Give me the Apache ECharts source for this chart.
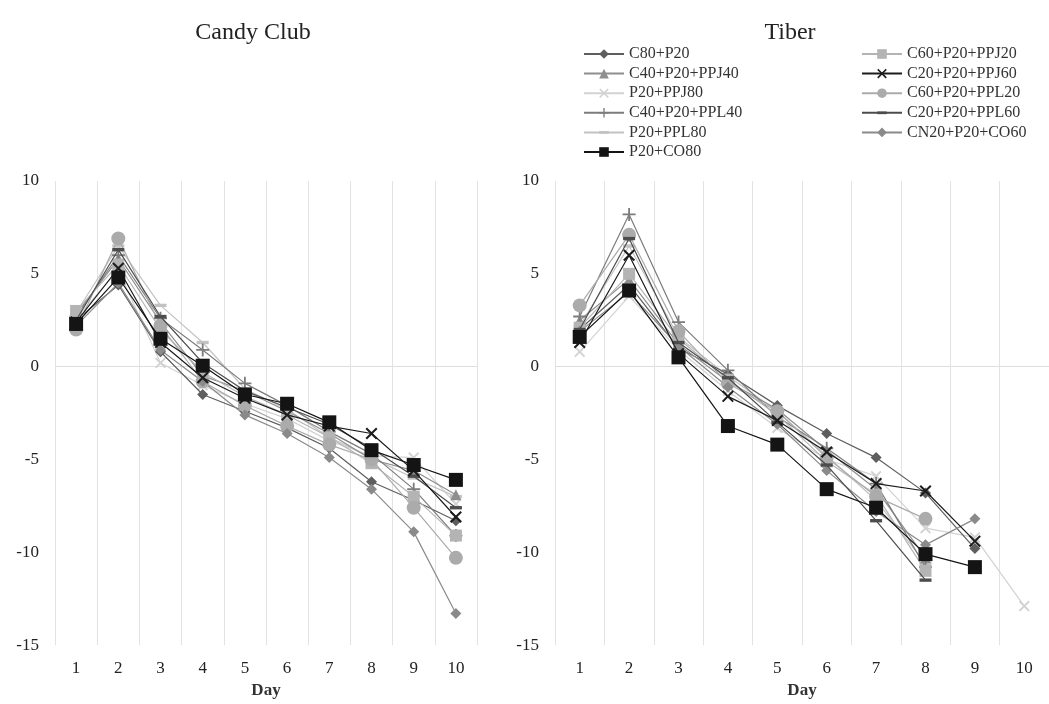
<!DOCTYPE html>
<html><head><meta charset="utf-8">
<script src="https://cdn.jsdelivr.net/npm/echarts@6/dist/echarts.min.js"></script>
<style>html,body{margin:0;padding:0;background:#fff}#c{width:1049px;height:704px}</style>
</head><body><div id="c"></div>
<script>
// ---- data ----
const days = ['1','2','3','4','5','6','7','8','9','10'];
const yTicks = [-15, -10, -5, 0, 5, 10];
const panelTitles = ['Candy Club', 'Tiber'];
const seriesNames = ['C80+P20','C40+P20+PPJ40','P20+PPJ80','C40+P20+PPL40','P20+PPL80','P20+CO80',
                     'C60+P20+PPJ20','C20+P20+PPJ60','C60+P20+PPL20','C20+P20+PPL60','CN20+P20+CO60'];

// Candy Club
const candy_C80_P20        = [2.5, 4.4, 0.8, -1.5, -2.4, -3.3, -4.4, -6.2, -7.2, -8.3];
const candy_C40_P20_PPJ40  = [2.8, 5.8, 2.4, -0.5, -1.3, -2.4, -3.6, -5.0, -5.6, -6.9];
const candy_P20_PPJ80      = [2.6, 5.2, 0.2, -1.0, -2.0, -2.8, -4.0, -4.8, -4.9, -7.4];
const candy_C40_P20_PPL40  = [2.7, 6.0, 2.6, 0.9, -0.9, -2.1, -3.5, -4.7, -6.6, -9.1];
const candy_P20_PPL80      = [2.9, 6.5, 3.3, 1.3, -1.2, -2.3, -3.8, -4.9, -6.0, -7.0];
const candy_P20_CO80       = [2.3, 4.8, 1.5, 0.05, -1.5, -2.0, -3.0, -4.5, -5.3, -6.1];
const candy_C60_P20_PPJ20  = [3.0, 5.5, 2.0, -0.3, -1.6, -2.6, -3.8, -5.2, -7.0, -9.1];
const candy_C20_P20_PPJ60  = [2.4, 5.3, 1.3, -0.6, -1.7, -2.6, -3.2, -3.6, -5.6, -8.1];
const candy_C60_P20_PPL20  = [2.0, 6.9, 2.2, -0.8, -2.1, -3.2, -4.2, -5.0, -7.6, -10.3];
const candy_C20_P20_PPL60  = [2.5, 6.3, 2.7, 0.2, -1.3, -2.2, -3.1, -4.4, -5.9, -7.6];
const candy_CN20_P20_CO60  = [2.2, 4.5, 0.9, -0.8, -2.6, -3.6, -4.9, -6.6, -8.9, -13.3];

// Tiber
const tiber_C80_P20        = [2.0, 4.4, 1.0, -0.4, -2.1, -3.6, -4.9, -6.8, -9.8, null];
const tiber_C40_P20_PPJ40  = [2.5, 4.7, 1.2, -0.8, -2.3, -4.5, -6.6, -10.3, null, null];
const tiber_P20_PPJ80      = [0.8, 3.8, 0.9, -1.3, -3.3, -5.0, -5.9, -8.7, -9.2, -12.9];
const tiber_C40_P20_PPL40  = [2.7, 8.2, 2.4, -0.2, -2.7, -4.4, -6.3, -10.8, null, null];
const tiber_P20_PPL80      = [2.2, 6.5, 1.6, -0.5, -2.4, -4.8, -7.2, -10.6, null, null];
const tiber_P20_CO80       = [1.6, 4.1, 0.5, -3.2, -4.2, -6.6, -7.6, -10.1, -10.8, null];
const tiber_C60_P20_PPJ20  = [2.1, 5.0, 1.5, -0.7, -2.6, -5.1, -6.9, -11.0, null, null];
const tiber_C20_P20_PPJ60  = [1.3, 6.0, 0.7, -1.6, -2.9, -4.6, -6.3, -6.7, -9.4, null];
const tiber_C60_P20_PPL20  = [3.3, 7.1, 1.9, -0.9, -2.4, -4.9, -7.0, -8.2, null, null];
const tiber_C20_P20_PPL60  = [2.0, 6.9, 1.3, -0.6, -3.0, -5.3, -8.3, -11.5, null, null];
const tiber_CN20_P20_CO60  = [1.9, 4.0, 1.1, -1.1, -3.1, -5.6, -7.8, -9.6, -8.2, null];

const candyValues = [candy_C80_P20, candy_C40_P20_PPJ40, candy_P20_PPJ80, candy_C40_P20_PPL40, candy_P20_PPL80,
  candy_P20_CO80, candy_C60_P20_PPJ20, candy_C20_P20_PPJ60, candy_C60_P20_PPL20, candy_C20_P20_PPL60, candy_CN20_P20_CO60];
const tiberValues = [tiber_C80_P20, tiber_C40_P20_PPJ40, tiber_P20_PPJ80, tiber_C40_P20_PPL40, tiber_P20_PPL80,
  tiber_P20_CO80, tiber_C60_P20_PPJ20, tiber_C20_P20_PPJ60, tiber_C60_P20_PPL20, tiber_C20_P20_PPL60, tiber_CN20_P20_CO60];

// ---- styles ----
const X = 'path://M0,1.2L1.2,0L5,3.8L8.8,0L10,1.2L6.2,5L10,8.8L8.8,10L5,6.2L1.2,10L0,8.8L3.8,5Z';
const PLUS = 'path://M4.3,0H5.7V4.3H10V5.7H5.7V10H4.3V5.7H0V4.3H4.3Z';
const DASH = 'path://M0,0M10,10M0,3.6H10V6.4H0Z';
const styles = [
  {symbol:'diamond',  size:11, color:'#5e5e5e', z:3},
  {symbol:'triangle', size:11, color:'#8e8e8e', z:3},
  {symbol:X,          size:11, color:'#d2d2d2', z:2},
  {symbol:PLUS,       size:13, color:'#7c7c7c', z:3},
  {symbol:DASH,       size:12, color:'#c2c2c2', z:2},
  {symbol:'rect',     size:14, color:'#141414', z:6},
  {symbol:'rect',     size:12, color:'#b4b4b4', z:3},
  {symbol:X,          size:12, color:'#1c1c1c', z:5},
  {symbol:'circle',   size:14, color:'#ababab', z:3},
  {symbol:DASH,       size:12, color:'#4c4c4c', z:4},
  {symbol:'diamond',  size:11, color:'#8a8a8a', z:3}
];

const FONT = 'Liberation Serif';
const chart = echarts.init(document.getElementById('c'));

function makeSeries(values, idx) {
  return values.map((v, i) => ({
    name: seriesNames[i], type: 'line', xAxisIndex: idx, yAxisIndex: idx,
    data: v, symbol: styles[i].symbol, symbolSize: styles[i].size, z: styles[i].z,
    showAllSymbol: true, connectNulls: false, animation: false,
    lineStyle: {color: styles[i].color, width: 1.2},
    itemStyle: {color: styles[i].color}
  }));
}

function xAxisFor(gi) {
  return {
    type: 'category', gridIndex: gi, data: days, boundaryGap: true,
    axisLine: {show: false, onZero: false}, axisTick: {show: false},
    axisLabel: {fontFamily: FONT, fontSize: 17, color: '#222', margin: 15},
    splitLine: {show: true, lineStyle: {color: '#e2e2e2', width: 1}},
    name: 'Day', nameLocation: 'middle', nameGap: 35,
    nameTextStyle: {fontFamily: FONT, fontSize: 17, fontWeight: 'bold', color: '#333'}
  };
}
function yAxisFor(gi) {
  return {
    type: 'value', gridIndex: gi, min: yTicks[0], max: yTicks[yTicks.length-1], interval: 5,
    axisLine: {show: false}, axisTick: {show: false},
    axisLabel: {fontFamily: FONT, fontSize: 17, color: '#222', margin: 16},
    splitLine: {show: true, lineStyle: {color: yTicks.map(t => t === 0 ? '#dedede' : 'rgba(0,0,0,0)'), width: 1}}
  };
}

const legendText = {fontFamily: FONT, fontSize: 16, color: '#333'};
chart.setOption({
  animation: false,
  backgroundColor: '#fff',
  title: [
    {text: panelTitles[0], left: 248, top: 16, textAlign: 'center',
     textStyle: {fontFamily: FONT, fontSize: 24, fontWeight: 'normal', color: '#222'}},
    {text: panelTitles[1], left: 785, top: 16, textAlign: 'center',
     textStyle: {fontFamily: FONT, fontSize: 24, fontWeight: 'normal', color: '#222'}}
  ],
  legend: [
    {data: seriesNames.slice(0, 6), orient: 'vertical', left: 578, top: 41, itemWidth: 40, itemHeight: 12,
     itemGap: 3.6, textStyle: legendText},
    {data: seriesNames.slice(6), orient: 'vertical', left: 856, top: 41, itemWidth: 40, itemHeight: 12,
     itemGap: 3.6, textStyle: legendText}
  ],
  grid: [
    {left: 55, top: 181, width: 422, height: 476},
    {left: 555, top: 181, width: 500, height: 476}
  ],
  xAxis: [xAxisFor(0), xAxisFor(1)],
  yAxis: [yAxisFor(0), yAxisFor(1)],
  series: makeSeries(candyValues, 0).concat(makeSeries(tiberValues, 1))
});
</script></body></html>
